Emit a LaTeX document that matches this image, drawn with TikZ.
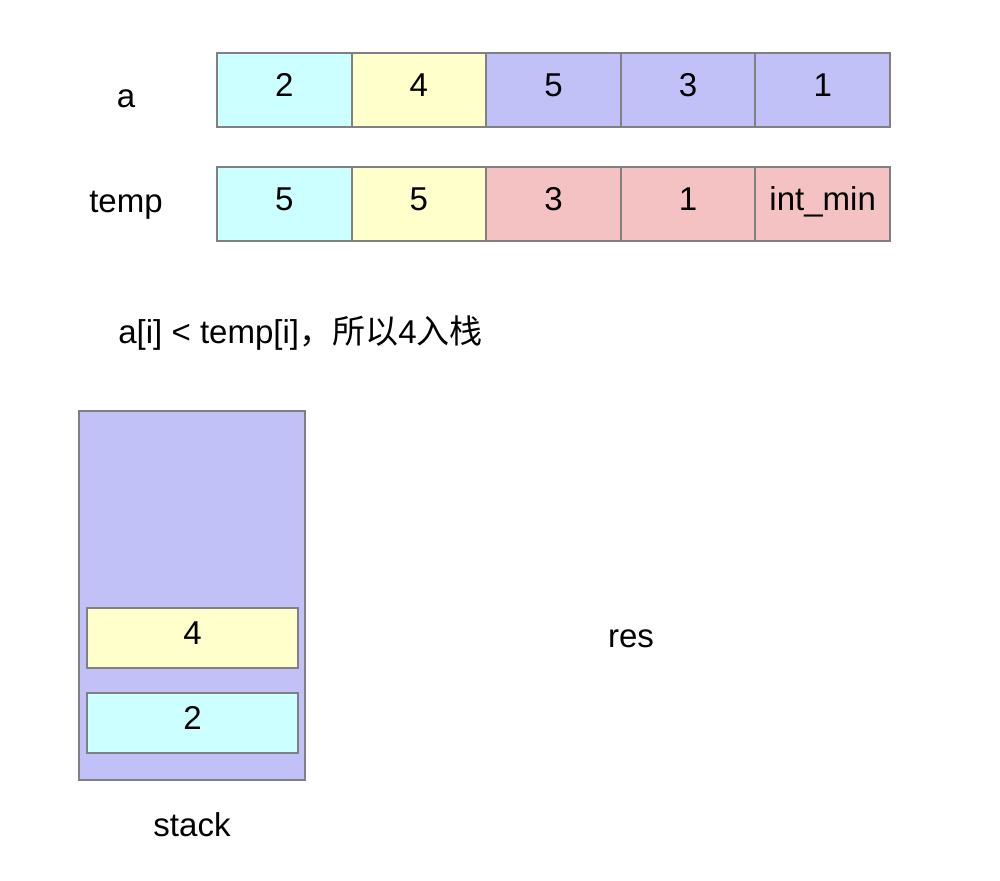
\documentclass[tikz,border=0pt]{standalone}
\usepackage{fontspec}
\setmainfont{Liberation Sans}
\newfontfamily\cjk{Noto Sans CJK SC}

\definecolor{cellcyan}{HTML}{CCFFFF}
\definecolor{cellyellow}{HTML}{FFFFCC}
\definecolor{celllav}{HTML}{C1C1F8}
\definecolor{cellpink}{HTML}{F4C2C2}
\definecolor{cellgray}{HTML}{808080}

\begin{document}
\begin{tikzpicture}[
    x=0.02cm, y=-0.02cm,
    font=\fontsize{18.8}{22}\selectfont,
    cell/.style={rectangle, draw=cellgray, line width=1.1pt, minimum width=2.69cm,
                 minimum height=1.48cm, inner sep=0pt, text height=0.74em, text depth=0pt},
    slot/.style={cell, minimum width=4.22cm, minimum height=1.2cm},
    lbl/.style={anchor=base, inner sep=0pt}
]
  \useasboundingbox (0,0) rectangle (1000,880);

  % Define variables for the two rows
  \def\cellW{134.6}   % width of one cell
  \def\rowX{217}      % left edge of both rows
  \def\rowA{90}       % centre line of row a
  \def\rowT{204}      % centre line of row temp

  % Row labels
  \node[lbl] (labA) at (126,107) {a};
  \node[lbl] (labT) at (126,212) {temp};

  % Row a
  \node[cell, fill=cellcyan]   (a1) at (\rowX+0.5*\cellW,\rowA) {2};
  \node[cell, fill=cellyellow] (a2) at (\rowX+1.5*\cellW,\rowA) {4};
  \node[cell, fill=celllav]    (a3) at (\rowX+2.5*\cellW,\rowA) {5};
  \node[cell, fill=celllav]    (a4) at (\rowX+3.5*\cellW,\rowA) {3};
  \node[cell, fill=celllav]    (a5) at (\rowX+4.5*\cellW,\rowA) {1};

  % Row temp
  \node[cell, fill=cellcyan]   (t1) at (\rowX+0.5*\cellW,\rowT) {5};
  \node[cell, fill=cellyellow] (t2) at (\rowX+1.5*\cellW,\rowT) {5};
  \node[cell, fill=cellpink]   (t3) at (\rowX+2.5*\cellW,\rowT) {3};
  \node[cell, fill=cellpink]   (t4) at (\rowX+3.5*\cellW,\rowT) {1};
  \node[cell, fill=cellpink]   (t5) at (\rowX+4.5*\cellW,\rowT) {int\_min};

  % Comment line
  \node[lbl, anchor=base west] (note) at (118,343)
    {a[i] < temp[i]{\cjk ，所以}4{\cjk 入栈}};

  % Stack with its two entries
  \node[rectangle, draw=cellgray, line width=1.1pt, fill=celllav,
        minimum width=4.52cm, minimum height=7.38cm] (stack) at (192,595.5) {};
  \node[slot, fill=cellyellow] (s2) at (192.5,638) {4};
  \node[slot, fill=cellcyan]   (s1) at (192.5,723) {2};
  \node[lbl] (labS) at (192,836) {stack};

  % Result
  \node[lbl] (res) at (631,647) {res};

\end{tikzpicture}
\end{document}
